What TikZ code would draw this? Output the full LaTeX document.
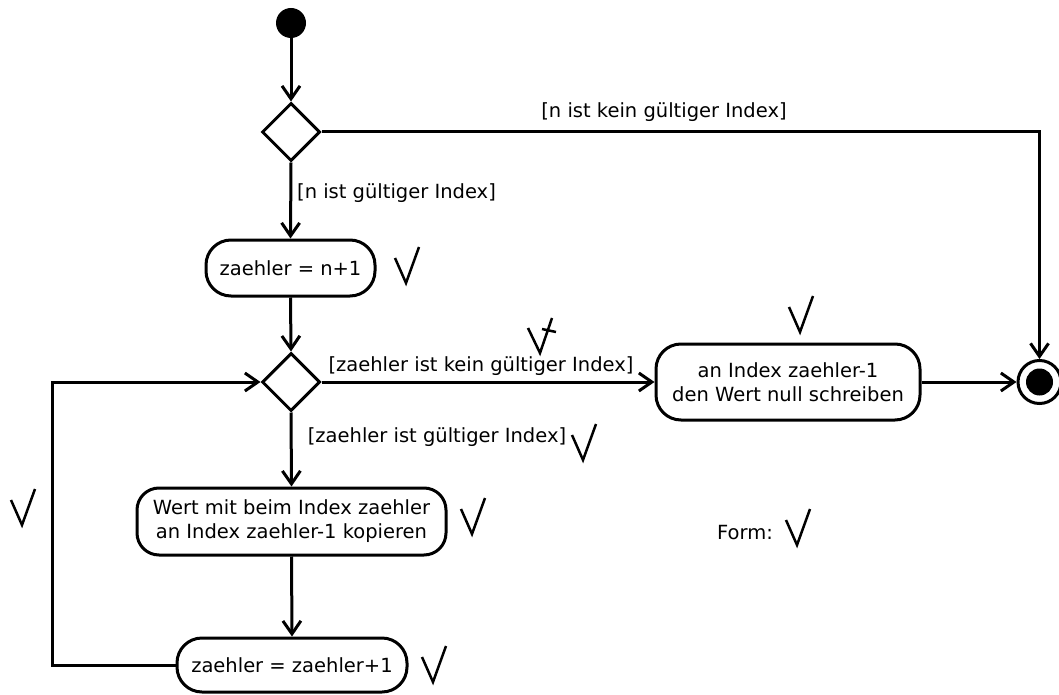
\documentclass[tikz,border=0pt]{standalone}
\usepackage{fontspec}
\setmainfont{DejaVu Sans}
\usetikzlibrary{arrows.meta,shapes.geometric}
\begin{document}
\begin{tikzpicture}[x=1pt,y=-1pt,
  every node/.style={font=\fontsize{19.5}{24}\selectfont},
  action/.style={draw,line width=3pt,rounded corners=25pt,align=center,inner sep=0pt},
  decision/.style={draw,diamond,line width=3pt,minimum width=58pt,minimum height=58pt,inner sep=0pt,aspect=1},
  flow/.style={line width=3pt,-{Straight Barb[length=13pt,width=18pt]}},
  guard/.style={inner sep=0pt},
  chk/.pic={\draw[line width=2.5pt,line join=miter] (-11,-25) -- (0,0) -- (13,-36);}
]
\useasboundingbox (0,0) rectangle (1059,695);
% nodes
\node[circle,fill,inner sep=0pt,minimum size=30pt] (start) at (291,23) {};
\node[decision] (d1) at (291,132) {};
\node[action,minimum width=169pt,minimum height=56pt] (a1) at (290.5,268) {zaehler = n+1};
\node[decision] (d2) at (291,382) {};
\node[action,minimum width=264pt,minimum height=76pt] (a2) at (788,382) {an Index zaehler-1\\den Wert null schreiben};
\node[action,minimum width=309pt,minimum height=67pt,rounded corners=22pt] (a3) at (291.5,521.5) {Wert mit beim Index zaehler\\an Index zaehler-1 kopieren};
\node[action,minimum width=230pt,minimum height=54pt] (a4) at (292,665) {zaehler = zaehler+1};
\node[circle,draw,line width=3pt,minimum size=43pt,inner sep=0pt] (end) at (1039.5,382) {};
\node[circle,fill,minimum size=27pt,inner sep=0pt] (endin) at (end) {};
\coordinate (loopc) at (52,665);
% guards
\node[guard] (g1) at (664,112) {[n ist kein gültiger Index]};
\node[guard] (g2) at (396.5,193) {[n ist gültiger Index]};
\node[guard] (g3) at (481,366) {[zaehler ist kein gültiger Index]};
\node[guard] (g4) at (437,437) {[zaehler ist gültiger Index]};
\node[guard] (form) at (745,533) {Form:};
% connectors
\draw[flow] (start) -- (d1);
\draw[flow] (d1.east) -| (end.north);
\draw[flow] (d1.south) -- (a1.north);
\draw[flow] (a1.south) -- (d2.north);
\draw[flow] (d2.east) -- (a2.west);
\draw[flow] (a2.east) -- (end.west);
\draw[flow] (d2.south) -- (a3.north);
\draw[flow] (a3.south) -- (a4.north);
\draw[flow] (a4.west) -- (loopc) |- (d2.west);
% checkmarks
\pic at (406,283) {chk};
\pic at (800,332) {chk};
\pic at (583,460) {chk};
\pic at (472,534) {chk};
\pic at (433,682) {chk};
\pic at (22,525) {chk};
\pic at (797,545) {chk};
\draw[line width=2.5pt] (528,328) -- (540,353) -- (552,318);
\draw[line width=2.5pt] (542,329) -- (556,332);
\end{tikzpicture}
\end{document}
